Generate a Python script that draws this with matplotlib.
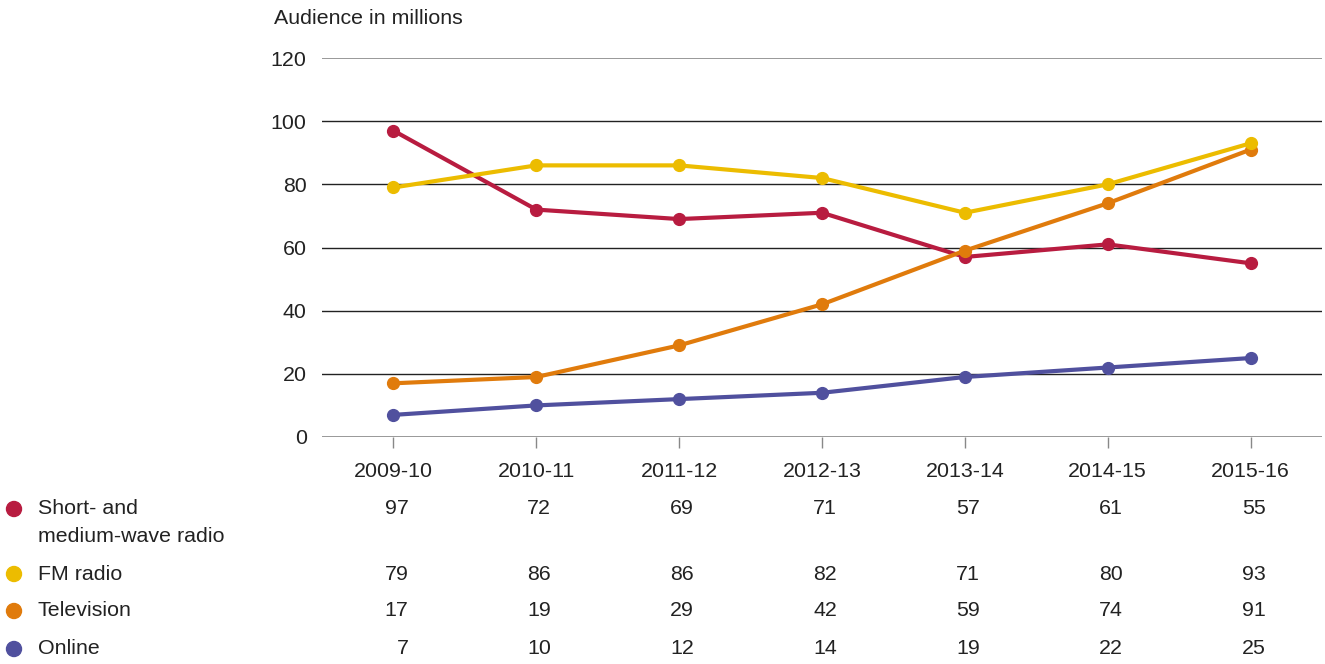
import matplotlib.pyplot as plt
from matplotlib.transforms import blended_transform_factory, ScaledTranslation

plt.rcParams['font.family'] = ['Liberation Sans', 'DejaVu Sans']
plt.rcParams['font.size'] = 15.4

# Data
years = ['2009-10', '2010-11', '2011-12', '2012-13', '2013-14', '2014-15', '2015-16']
short_medium = [97, 72, 69, 71, 57, 61, 55]
fm_radio = [79, 86, 86, 82, 71, 80, 93]
television = [17, 19, 29, 42, 59, 74, 91]
online = [7, 10, 12, 14, 19, 22, 25]

series_names = ['Short- and\nmedium-wave radio', 'FM radio', 'Television', 'Online']
series_values = [short_medium, fm_radio, television, online]
colors = ['#b81c40', '#ecbc00', '#e07b0c', '#50509e']

fig = plt.figure(figsize=(13.25, 6.64), dpi=100)
ax = fig.add_axes([322 / 1325, 1 - 437 / 664, 1000 / 1325, 379 / 664])

x = list(range(len(years)))

# gridlines
for v in [20, 40, 60, 80, 100]:
    ax.axhline(v, color='#222222', lw=1.0, zorder=1)
for v in [0, 120]:
    ax.axhline(v, color='#888888', lw=1.2, zorder=1)

# draw order: online, short/medium, television, fm on top
draw_order = [3, 0, 2, 1]
for k, i in enumerate(draw_order):
    ax.plot(x, series_values[i], color=colors[i], lw=3, marker='o',
            markersize=8.5, zorder=3 + k, clip_on=False)

ax.set_xlim(-0.5, len(years) - 0.5)
ax.set_ylim(0, 120)
ax.set_yticks([0, 20, 40, 60, 80, 100, 120])
ax.set_xticks(x)
ax.set_xticklabels(years)
for s in ax.spines.values():
    s.set_visible(False)
ax.tick_params(axis='y', length=0, pad=11, labelcolor='#222222')
ax.tick_params(axis='x', length=8, width=1, color='#888888', pad=10, labelcolor='#222222')

fig.text(274 / 1325, 1 - 18 / 664, 'Audience in millions', ha='left', va='center',
         color='#222222')

# table below the chart
trans = blended_transform_factory(ax.transData, fig.transFigure)
trans_val = trans + ScaledTranslation(15 / 100, 0, fig.dpi_scale_trans)
row_y = [509, 574, 611, 649]
for i, name in enumerate(series_names):
    yf = 1 - row_y[i] / 664
    for n, line in enumerate(name.split('\n')):
        fig.text(38 / 1325, 1 - (row_y[i] + 27 * n) / 664, line, ha='left',
                 va='center', color='#222222')
    fig.patches.append(plt.Circle((14 / 100, yf * 6.64), 0.075,
                                  transform=fig.dpi_scale_trans, color=colors[i]))
    for j, val in enumerate(series_values[i]):
        fig.text(j, yf, str(val), ha='right', va='center', transform=trans_val,
                 color='#222222')

fig.savefig('out.png', dpi=100)
